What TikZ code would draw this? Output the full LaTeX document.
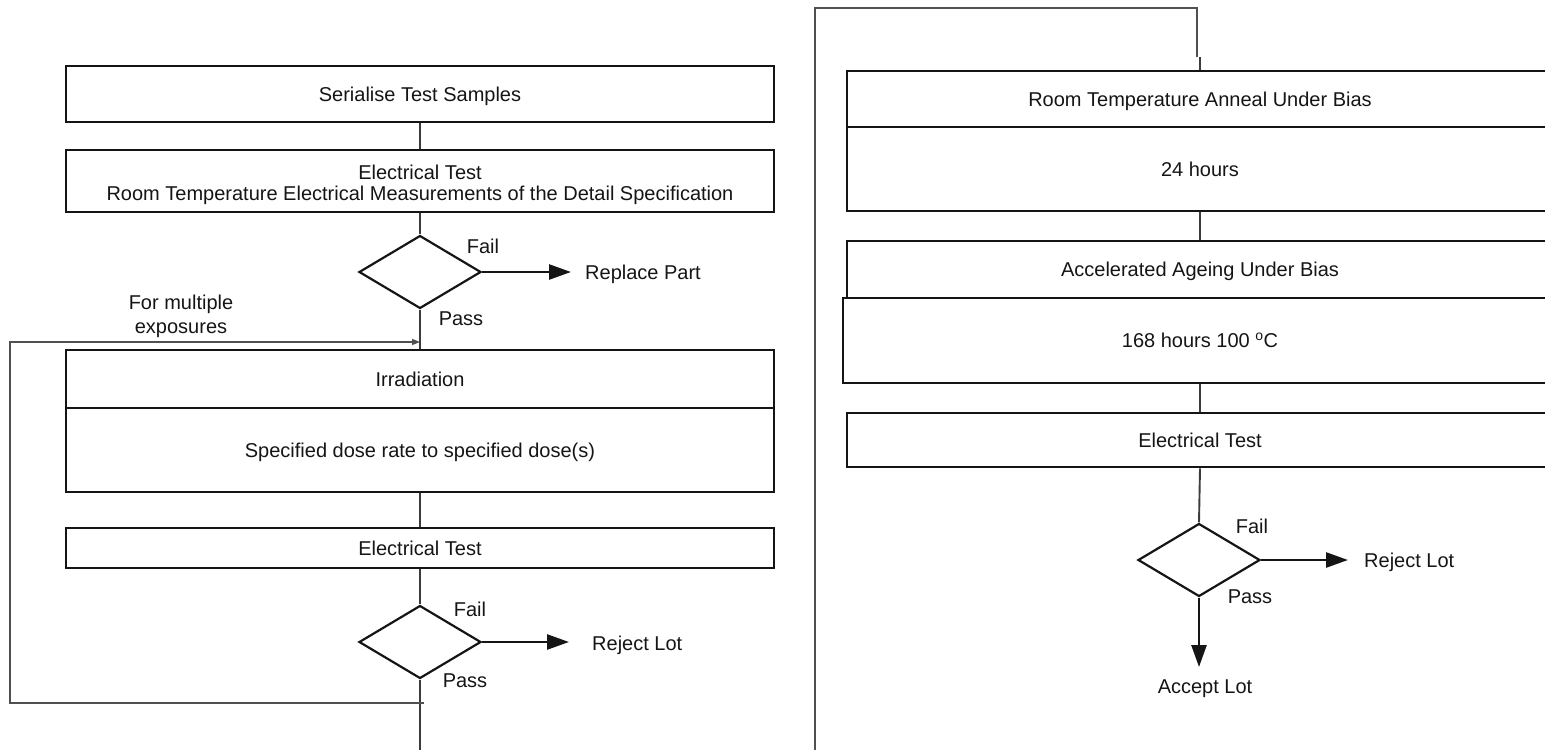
\documentclass[tikz,border=0pt]{standalone}
\usepackage{fontspec}
\setmainfont{Liberation Sans}
\usetikzlibrary{arrows.meta,shapes.geometric}
\definecolor{ink}{HTML}{151515}
\definecolor{wire}{HTML}{3C3C3C}
\definecolor{loopline}{HTML}{505050}

\begin{document}
\begin{tikzpicture}[x=1pt,y=-1pt,
  font=\fontsize{20}{22}\selectfont, text=ink,
  box/.style={draw=ink, line width=2.6pt, inner sep=0, minimum width=708pt,
              text height=16pt, text depth=1.6pt},
  decision/.style={diamond, draw=ink, line width=2.2pt, inner sep=0,
                   minimum width=122pt, minimum height=73pt},
  lbl/.style={inner sep=0, anchor=base},
  lblw/.style={inner sep=0, anchor=base west},
  link/.style={draw=wire, line width=1.9pt},
  thinlink/.style={draw=loopline, line width=1.3pt},
  outarrow/.style={draw=ink, line width=2.5pt,
                   -{Triangle[length=22pt,width=15pt]}},
  backarrow/.style={thinlink, -{Triangle[length=8pt,width=6pt]}}]

\useasboundingbox (0,0) rectangle (1545,750);
\clip (0,0) rectangle (1545,750);

% ---------- left column ----------
\node[box, minimum height=56pt] (serial) at (420,94) {Serialise Test Samples};
\node[box, minimum height=62pt, align=center, text height=40pt, text depth=1.6pt] (etest1) at (420,181)
  {Electrical Test\\[-1pt]Room Temperature Electrical Measurements of the Detail Specification};
\node[decision] (dec1) at (420,272) {};
\node[lbl] (fail1) at (483,253) {Fail};
\node[lbl] (pass1) at (461,325) {Pass};
\node[lblw] (replace) at (585,279) {Replace Part};
\node[inner sep=0, align=center] (multi) at (181,316.5) {For multiple\\[2pt]exposures};

\node[box, minimum height=58pt] (irr) at (420,379) {Irradiation};
\node[box, minimum height=84pt] (dose) at (420,450) {Specified dose rate to specified dose(s)};
\node[box, minimum height=40pt] (etest2) at (420,548) {Electrical Test};
\node[decision] (dec2) at (420,642) {};
\node[lbl] (fail2) at (470,616) {Fail};
\node[lbl] (pass2) at (465,687) {Pass};
\node[lblw] (reject1) at (592,650) {Reject Lot};

\coordinate (leftout) at (420,750);
\coordinate (loopA) at (424,703);
\coordinate (loopB) at (10,703);
\coordinate (loopC) at (10,342);
\coordinate (loopD) at (420,342);

\draw[link] (serial.south) -- (etest1.north);
\draw[link] (etest1.south) -- (dec1.north);
\draw[link] (dec1.south) -- (irr.north);
\draw[link] (dose.south) -- (etest2.north);
\draw[link] (etest2.south) -- (dec2.north);
\draw[link] (dec2.south) -- (leftout);
\draw[outarrow, shorten >=14pt] (dec1.east) -- (dec1.east -| replace.west);
\draw[outarrow, shorten >=23pt] (dec2.east) -- (dec2.east -| reject1.west);
\draw[backarrow] (loopA) -- (loopB) -- (loopC) -- (loopD);

% ---------- right column ----------
\coordinate (rightin) at (815,750);
\coordinate (topL) at (815,8);
\coordinate (topR) at (1197,8);
\coordinate (jogA) at (1197,57);
\coordinate (jogB) at (1200,57);

\node[box, minimum width=706pt, minimum height=56pt] (anneal) at (1200,99) {Room Temperature Anneal Under Bias};
\node[box, minimum width=706pt, minimum height=84pt] (h24) at (1200,169) {24 hours};
\node[box, minimum width=706pt, minimum height=57pt] (ageing) at (1200,269.5) {Accelerated Ageing Under Bias};
\node[box, minimum width=714pt, minimum height=85pt] (h168) at (1200,340.5) {168 hours 100 \textsuperscript{o}C};
\node[box, minimum width=706pt, minimum height=54pt] (etest3) at (1200,440) {Electrical Test};
\node[decision] (dec3) at (1199,560) {};
\node[lbl] (fail3) at (1252,533) {Fail};
\node[lbl] (pass3) at (1250,603) {Pass};
\node[lblw] (reject2) at (1364,567) {Reject Lot};
\node[lbl] (accept) at (1205,693) {Accept Lot};

\draw[thinlink] (rightin) -- (topL) -- (topR) -- (jogA);
\draw[link] (jogB) -- (anneal.north);
\draw[link] (h24.south) -- (ageing.north);
\draw[link] (h168.south) -- (etest3.north);
\draw[link] (etest3.south) -- (dec3.north);
\draw[outarrow, shorten >=16pt] (dec3.east) -- (dec3.east -| reject2.west);
\draw[outarrow, shorten >=12pt] (dec3.south) -- (dec3.south |- accept.north);
\end{tikzpicture}
\end{document}
